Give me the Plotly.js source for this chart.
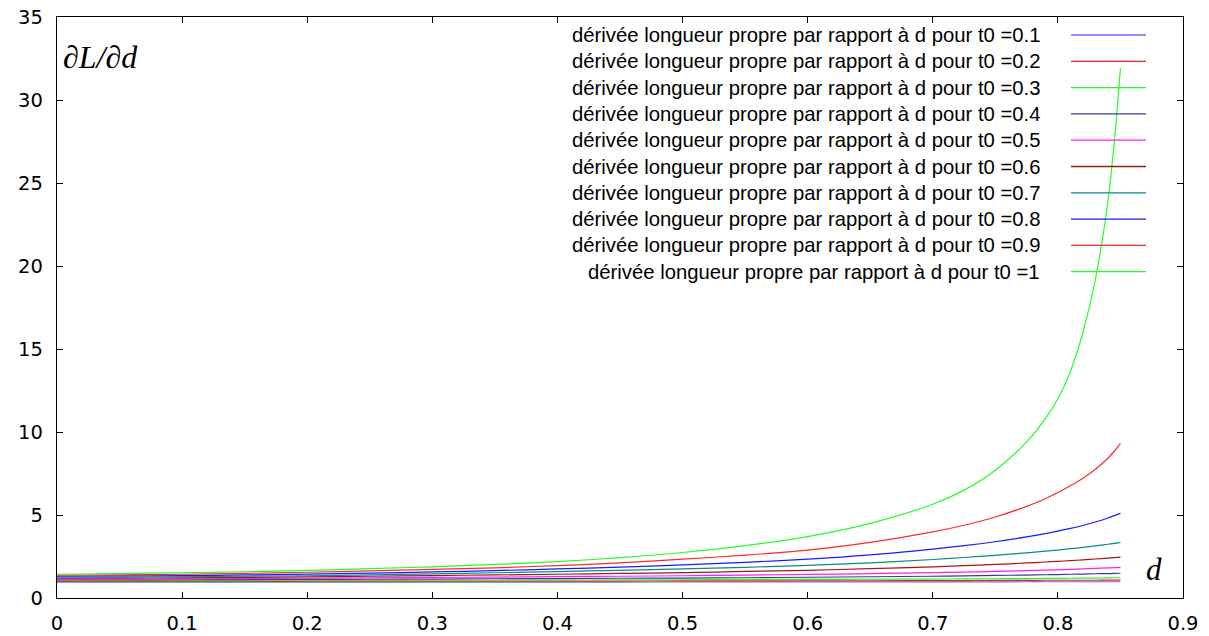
<!DOCTYPE html>
<html>
<head>
<meta charset="utf-8">
<script src="https://cdn.plot.ly/plotly-3.0.1.min.js"></script>
<style>
  html, body { margin: 0; padding: 0; background: #fff; }
  #chart { width: 1209px; height: 636px; }
</style>
</head>
<body>
<div id="chart"></div>
<script>
// Sample positions along d (denser near the end, where the curves steepen)
const dValues = [0, 0.05, 0.1, 0.15, 0.2, 0.25, 0.3, 0.35, 0.4, 0.45, 0.5, 0.55, 0.6, 0.65,
                 0.7, 0.725, 0.75, 0.775, 0.79, 0.8, 0.81, 0.82, 0.83, 0.84, 0.845, 0.85];

// dL/dd for each initial time t0
const t0Labels = ["0.1", "0.2", "0.3", "0.4", "0.5", "0.6", "0.7", "0.8", "0.9", "1"];

const deriv_t01 = [0.96, 0.96, 0.96, 0.96, 0.96, 0.96, 0.96, 0.96, 0.96, 0.96, 0.97, 0.97, 0.97, 0.97,
                   0.97, 0.97, 0.97, 0.98, 0.98, 0.98, 0.98, 0.98, 0.98, 0.98, 0.98, 0.98];
const deriv_t02 = [1.00, 1.00, 1.00, 1.00, 1.01, 1.01, 1.01, 1.02, 1.02, 1.02, 1.03, 1.03, 1.04, 1.04,
                   1.05, 1.05, 1.06, 1.06, 1.07, 1.07, 1.07, 1.07, 1.07, 1.08, 1.08, 1.08];
const deriv_t03 = [1.04, 1.04, 1.05, 1.05, 1.06, 1.06, 1.07, 1.07, 1.08, 1.09, 1.10, 1.11, 1.12, 1.13,
                   1.14, 1.15, 1.16, 1.17, 1.18, 1.18, 1.19, 1.20, 1.20, 1.21, 1.22, 1.22];
const deriv_t04 = [1.09, 1.09, 1.10, 1.11, 1.12, 1.13, 1.14, 1.16, 1.17, 1.19, 1.20, 1.22, 1.25, 1.28,
                   1.31, 1.33, 1.36, 1.38, 1.40, 1.41, 1.43, 1.44, 1.46, 1.47, 1.48, 1.49];
const deriv_t05 = [1.14, 1.14, 1.15, 1.17, 1.19, 1.21, 1.24, 1.26, 1.29, 1.31, 1.34, 1.38, 1.42, 1.47,
                   1.53, 1.56, 1.60, 1.65, 1.68, 1.70, 1.72, 1.75, 1.78, 1.81, 1.83, 1.85];
const deriv_t06 = [1.19, 1.20, 1.21, 1.24, 1.27, 1.31, 1.35, 1.39, 1.43, 1.48, 1.53, 1.60, 1.67, 1.77,
                   1.88, 1.95, 2.02, 2.11, 2.17, 2.21, 2.25, 2.30, 2.35, 2.40, 2.43, 2.46];
const deriv_t07 = [1.25, 1.26, 1.28, 1.31, 1.34, 1.39, 1.45, 1.52, 1.59, 1.67, 1.75, 1.85, 1.96, 2.12,
                   2.32, 2.44, 2.57, 2.72, 2.82, 2.89, 2.97, 3.05, 3.14, 3.24, 3.29, 3.35];
const deriv_t08 = [1.31, 1.33, 1.35, 1.39, 1.44, 1.50, 1.57, 1.65, 1.75, 1.86, 1.99, 2.15, 2.34, 2.60,
                   2.95, 3.15, 3.39, 3.68, 3.88, 4.03, 4.19, 4.37, 4.58, 4.82, 4.96, 5.10];
const deriv_t09 = [1.37, 1.39, 1.43, 1.48, 1.55, 1.63, 1.72, 1.82, 1.95, 2.12, 2.34, 2.58, 2.89, 3.35,
                   3.98, 4.38, 4.88, 5.52, 5.98, 6.35, 6.76, 7.22, 7.76, 8.42, 8.84, 9.32];
const deriv_t10 = [1.43, 1.47, 1.52, 1.58, 1.66, 1.77, 1.88, 2.02, 2.19, 2.43, 2.74, 3.15, 3.70, 4.50,
                   5.65, 6.50, 7.70, 9.40, 10.8, 12.0, 13.65, 16.0, 19.2, 23.9, 27.4, 31.9];

const seriesValues = [deriv_t01, deriv_t02, deriv_t03, deriv_t04, deriv_t05,
                      deriv_t06, deriv_t07, deriv_t08, deriv_t09, deriv_t10];

const xTickValues = [0, 0.1, 0.2, 0.3, 0.4, 0.5, 0.6, 0.7, 0.8, 0.9];
const yTickValues = [0, 5, 10, 15, 20, 25, 30, 35];

const lineColors = ["#6a6aff", "#ff1a1a", "#1aff1a", "#3c3c96", "#ff1aff",
                    "#a01818", "#0a8a8a", "#1a1aff", "#ff2a2a", "#22ff22"];

// Page geometry (pixels)
const W = 1209, H = 636;
const M = { l: 57, r: 26, t: 17, b: 38 };
const plotW = W - M.l - M.r, plotH = H - M.t - M.b;
const px2x = px => (px - M.l) / plotW;
const px2y = py => 1 - (py - M.t) / plotH;

const legendText = t => "dérivée longueur propre par rapport à d pour t0 =" + t;

const traces = seriesValues.map((vals, i) => ({
  type: "scatter",
  mode: "lines",
  x: dValues,
  y: vals,
  name: legendText(t0Labels[i]),
  line: { color: lineColors[i], width: 1.2, shape: "spline", smoothing: 0.8 },
  showlegend: false,
  hoverinfo: "x+y+name"
}));

// Key: text right-aligned, sample line to the right
const keyRow0 = 35, keyStep = 26.3;
const keyTextRight = 1042, keyLine0 = 1071, keyLine1 = 1146;

const annotations = [];
const shapes = [];
t0Labels.forEach((t, i) => {
  const yy = px2y(keyRow0 + i * keyStep);
  annotations.push({
    xref: "paper", yref: "paper", x: px2x(keyTextRight), y: yy,
    xanchor: "right", yanchor: "middle", showarrow: false,
    text: legendText(t),
    font: { family: "Liberation Sans, Arial, sans-serif", size: 20.3, color: "#000" }
  });
  shapes.push({
    type: "line", xref: "paper", yref: "paper",
    x0: px2x(keyLine0), x1: px2x(keyLine1), y0: yy, y1: yy,
    line: { color: lineColors[i], width: 1.3 }
  });
});

// Axis names drawn inside the frame
annotations.push({
  xref: "paper", yref: "paper", x: px2x(61), y: px2y(57),
  xanchor: "left", yanchor: "middle", showarrow: false,
  text: "∂L/∂d",
  font: { family: "Liberation Serif, Times New Roman, serif", size: 32, color: "#000", style: "italic" }
});
annotations.push({
  xref: "paper", yref: "paper", x: px2x(1154), y: px2y(569),
  xanchor: "center", yanchor: "middle", showarrow: false,
  text: "d",
  font: { family: "Liberation Serif, Times New Roman, serif", size: 31, color: "#000", style: "italic" }
});

const tickFont = { family: "DejaVu Sans, Verdana, sans-serif", size: 19.5, color: "#000" };

const layout = {
  width: W, height: H,
  margin: M,
  paper_bgcolor: "#fff",
  plot_bgcolor: "#fff",
  showlegend: false,
  xaxis: {
    range: [0, 0.9],
    tickvals: xTickValues,
    ticktext: xTickValues.map(v => String(v)),
    ticks: "inside", ticklen: 6, tickwidth: 1, tickcolor: "#000",
    showline: true, linecolor: "#000", linewidth: 1.3, mirror: "ticks",
    showgrid: false, zeroline: false,
    tickfont: tickFont,
    ticklabelstandoff: 7
  },
  yaxis: {
    range: [0, 35],
    tickvals: yTickValues,
    ticktext: yTickValues.map(v => String(v)),
    ticks: "inside", ticklen: 6, tickwidth: 1, tickcolor: "#000",
    showline: true, linecolor: "#000", linewidth: 1.3, mirror: "ticks",
    showgrid: false, zeroline: false,
    tickfont: tickFont,
    ticklabelstandoff: 9
  },
  annotations: annotations,
  shapes: shapes
};

Plotly.newPlot("chart", traces, layout, { displayModeBar: false, staticPlot: true });
</script>
</body>
</html>
